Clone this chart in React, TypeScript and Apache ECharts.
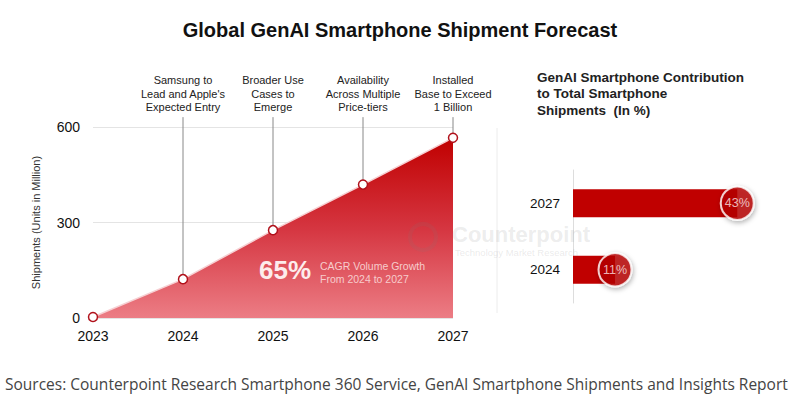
import React, { useEffect, useRef } from "react";
import * as echarts from "echarts";

const years = ["2023", "2024", "2025", "2026", "2027"];
const shipments = [3, 122, 276, 419, 566];
const annotations = [
  "",
  "Samsung to\nLead and Apple's\nExpected Entry",
  "Broader Use\nCases to\nEmerge",
  "Availability\nAcross Multiple\nPrice-tiers",
  "Installed\nBase to Exceed\n1 Billion",
];
const yTicksMax = 600;
const yTickInterval = 300;
const shareYears = ["2024", "2027"];
const shareValues = [11, 43];
const annotationTop = 631;

export default function App() {
  const ref = useRef<HTMLDivElement>(null);
  useEffect(() => {
    document.body.style.margin = "0";
    const chart = echarts.init(ref.current!, undefined, { renderer: "svg" });
    const font = "Liberation Sans, Arial, sans-serif";
    chart.setOption({
      animation: false,
      backgroundColor: "#ffffff",
      textStyle: { fontFamily: font },
      title: [
        {
          text: "Global GenAI Smartphone Shipment Forecast",
          left: "center",
          top: 15,
          textStyle: { fontSize: 20, fontWeight: "bold", color: "#111", fontFamily: font },
        },
        {
          text: "GenAI Smartphone Contribution\nto Total Smartphone\nShipments  (In %)",
          left: 532,
          top: 64,
          textStyle: { fontSize: 13.5, fontWeight: "bold", color: "#222", lineHeight: 16.5, fontFamily: font },
        },
      ],
      grid: [
        { left: 93, right: 347, top: 127, bottom: 78 },
        { left: 573, right: 36, top: 170, bottom: 93 },
      ],
      xAxis: [
        {
          gridIndex: 0,
          type: "category",
          data: years,
          boundaryGap: false,
          axisLine: { show: false },
          axisTick: { show: false },
          axisLabel: { color: "#111", fontSize: 14, margin: 11, fontFamily: font },
        },
        {
          gridIndex: 1,
          type: "value",
          min: 0,
          max: 50,
          show: false,
        },
      ],
      yAxis: [
        {
          gridIndex: 0,
          type: "value",
          min: 0,
          max: yTicksMax,
          interval: yTickInterval,
          name: "Shipments (Units in Million)",
          nameLocation: "middle",
          nameGap: 52,
          nameTextStyle: { fontSize: 11, color: "#333", fontFamily: font },
          axisLine: { show: false },
          axisTick: { show: false },
          axisLabel: { color: "#111", fontSize: 14, margin: 13, fontFamily: font },
          splitLine: { lineStyle: { color: "#e4e4e4", width: 1 } },
        },
        {
          gridIndex: 1,
          type: "category",
          data: shareYears,
          axisLine: { show: true, lineStyle: { color: "#dddddd" } },
          axisTick: { show: false },
          axisLabel: { color: "#111", fontSize: 13.5, margin: 13, fontFamily: font },
        },
      ],
      series: [
        {
          type: "line",
          xAxisIndex: 0,
          yAxisIndex: 0,
          data: shipments,
          clip: false,
          symbol: "circle",
          symbolSize: 9,
          itemStyle: { color: "#ffffff", borderColor: "#b0101a", borderWidth: 1.5 },
          lineStyle: { color: "#f6d0d3", width: 1.5 },
          areaStyle: {
            opacity: 1,
            color: new echarts.graphic.LinearGradient(0, 0, 0, 1, [
              { offset: 0, color: "#c00000" },
              { offset: 0.5, color: "#d53540" },
              { offset: 1, color: "#ec7d85" },
            ]),
          },
          z: 3,
        },
        {
          type: "bar",
          xAxisIndex: 1,
          yAxisIndex: 1,
          data: shareValues,
          barWidth: 28,
          itemStyle: { color: "#c00000" },
          z: 2,
        },
        {
          type: "scatter",
          xAxisIndex: 1,
          yAxisIndex: 1,
          data: shareValues.map((v, i) => [v, shareYears[i]]),
          symbol: "circle",
          symbolSize: 33,
          itemStyle: {
            color: "#b80808",
            borderColor: "#ffffff",
            borderWidth: 2,
            shadowColor: "rgba(0,0,0,0.35)",
            shadowBlur: 5,
            shadowOffsetX: 1,
            shadowOffsetY: 2,
          },
          label: {
            show: true,
            position: "inside",
            formatter: (p: any) => p.value[0] + "%",
            color: "#fbe4e4",
            fontSize: 12.5,
            fontFamily: font,
          },
          z: 4,
        },
      ],
    });

    const extra: any[] = [
      {
        type: "line",
        shape: { x1: 497, y1: 128, x2: 497, y2: 313 },
        style: { stroke: "#ececec", lineWidth: 1 },
        silent: true,
      },
      {
        type: "text",
        left: 259,
        top: 257,
        style: { text: "65%", fill: "#fdecec", font: "bold 26px " + font },
        z: 10,
      },
      {
        type: "text",
        left: 320,
        top: 259,
        style: {
          text: "CAGR Volume Growth\nFrom 2024 to 2027",
          fill: "#f7cccc",
          font: "10.5px " + font,
          lineHeight: 13,
        },
        z: 10,
      },
      {
        type: "circle",
        shape: { cx: 423, cy: 237, r: 13 },
        style: { fill: "none", stroke: "rgba(120,120,120,0.12)", lineWidth: 4 },
        z: 10,
        silent: true,
      },
      {
        type: "text",
        left: 452,
        top: 223,
        style: { text: "Counterpoint", fill: "rgba(150,150,150,0.18)", font: "bold 22px " + font },
        z: 10,
        silent: true,
      },
      {
        type: "text",
        left: 455,
        top: 247,
        style: { text: "Technology Market Research", fill: "rgba(150,150,150,0.2)", font: "9.5px " + font },
        z: 10,
        silent: true,
      },
      {
        type: "text",
        left: 5,
        top: 376,
        style: {
          text: "Sources: Counterpoint Research Smartphone 360 Service, GenAI Smartphone Shipments and Insights Report",
          fill: "#444",
          font: "15.5px 'Open Sans', sans-serif",
        },
      },
    ];
    years.forEach((y, i) => {
      if (!annotations[i]) return;
      const p0 = chart.convertToPixel({ gridIndex: 0 }, [y, shipments[i]]) as number[];
      const p1 = chart.convertToPixel({ gridIndex: 0 }, [y, annotationTop]) as number[];
      extra.push({
        type: "line",
        shape: { x1: p0[0], y1: p0[1] - 4.5, x2: p1[0], y2: p1[1] },
        style: { stroke: "#888", lineWidth: 1 },
        z: 1,
        silent: true,
      });
      extra.push({
        type: "text",
        x: p1[0],
        y: p1[1] - 3,
        style: {
          text: annotations[i],
          fill: "#222",
          font: "11px " + font,
          lineHeight: 13.5,
          align: "center",
          verticalAlign: "bottom",
        },
        silent: true,
      });
    });
    chart.setOption({ graphic: extra });
    return () => chart.dispose();
  }, []);
  return (
    <div
      ref={ref}
      style={{ position: "absolute", left: 0, top: 0, width: 800, height: 396 }}
    />
  );
}
